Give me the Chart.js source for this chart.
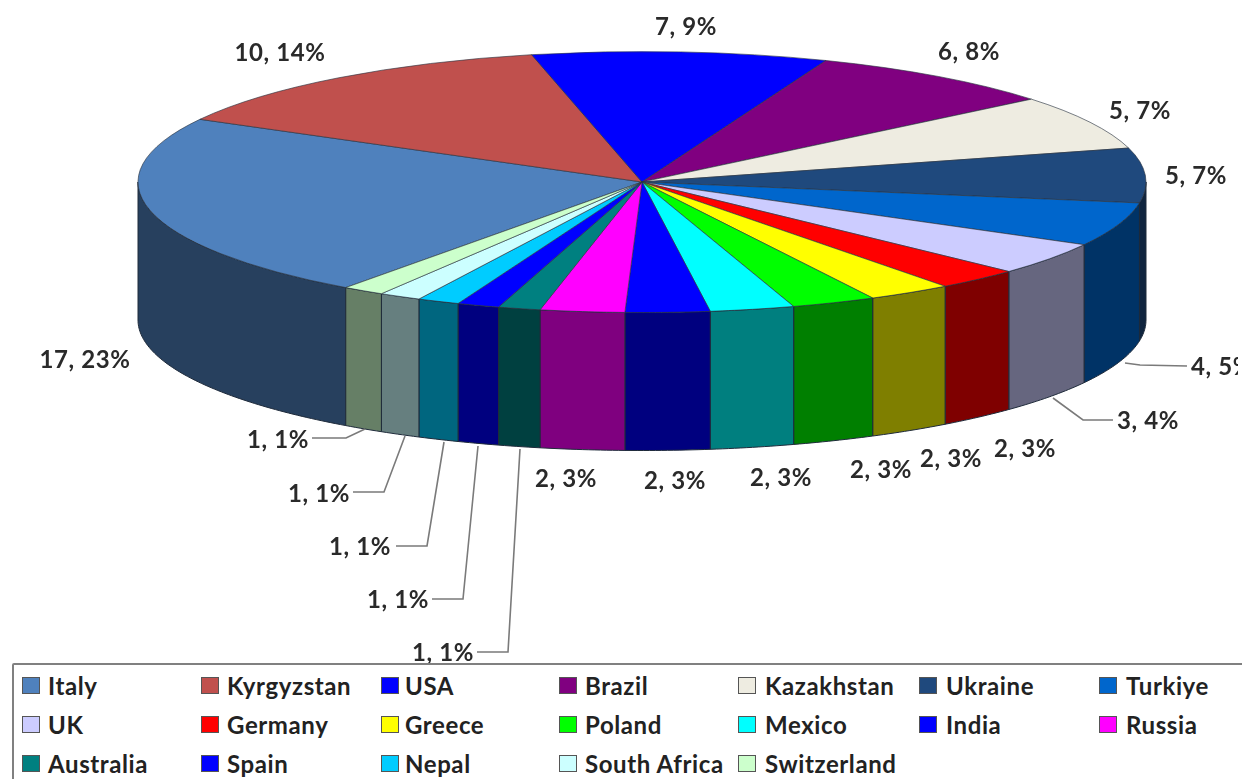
<!DOCTYPE html>
<html><head><meta charset="utf-8">
<style>
html,body{margin:0;padding:0;background:#fff;overflow:hidden}
#wrap{position:relative;width:1242px;height:779px;overflow:hidden}
canvas{position:absolute;left:0;top:0}
#legend{position:absolute;left:12px;top:663px;width:1260px;height:130px;background:#fff;border:2px solid #808080;border-radius:2px;box-sizing:border-box}
.it{position:absolute;font:700 24px Lato,sans-serif;letter-spacing:.6px;color:#222;white-space:nowrap;line-height:26px}
.bx{position:absolute;width:18px;height:17px;border:1px solid #555;box-sizing:border-box}
</style></head><body>
<div id="wrap"><canvas id="c" width="1242" height="779"></canvas><div id="legend"></div></div>
<script src="https://cdn.jsdelivr.net/npm/chart.js@4"></script>
<script>
const categories=["Italy","Kyrgyzstan","USA","Brazil","Kazakhstan","Ukraine","Turkiye","UK","Germany","Greece","Poland","Mexico","India","Russia","Australia","Spain","Nepal","South Africa","Switzerland"];
const counts=[17,10,7,6,5,5,4,3,2,2,2,2,2,2,1,1,1,1,1];
const colors=["#4f81bd","#c0504d","#0000ff","#800080","#eeece1","#1f497d","#0066cc","#ccccff","#ff0000","#ffff00","#00ff00","#00ffff","#0000ff","#ff00ff","#008080","#0000ff","#00ccff","#ccffff","#ccffcc"];

// Presentation layout (not data)
const SQUASH=130.5/504, DEPTH=138;
const labelSpots=[[85,360],[280,53],[686,27],[969,52],[1140,111],[1196,176],[1222,367],[1148,421],[1025,449],[951,459],[881,470],[781,478],[675,481],[566,479],[443,653],[398,600],[360,547],[319,494],[278,440]];
const leaders={6:[[1125,363],[1140,365],[1187,366]],7:[[1053,398],[1083,420],[1113,420]],
 14:[[520,449],[508,652],[477,652]],15:[[478,446],[463,599],[432,599]],16:[[444,442],[427,546],[396,546]],17:[[405,436],[384,492],[353,492]],18:[[365,429],[346,438],[312,438]]};
const colX=[[22,48],[201,227],[381,405],[559,585],[738,765],[919,946],[1099,1126]];
const rowY=[685.5,724.5,763.5];

const total=counts.reduce((a,b)=>a+b,0);
const half=h=>{const n=parseInt(h.slice(1),16);return `rgb(${(n>>16)>>1},${((n>>8)&255)>>1},${(n&255)>>1})`;};

const pie3d={id:'pie3d',
 beforeDatasetDraw(chart,args){
  const ctx=chart.ctx, arcs=args.meta.data;
  ctx.save();
  ctx.lineWidth=1; ctx.strokeStyle='#1e2a3a';
  arcs.forEach((a,i)=>{
    const p=a.getProps(['x','y','startAngle','endAngle','outerRadius'],true);
    const TAU=Math.PI*2;
    let s=p.startAngle, e=p.endAngle;
    while(s<0){s+=TAU;e+=TAU;}
    [[0,Math.PI],[TAU,TAU+Math.PI]].forEach(([lo,hi])=>{
      const u=Math.max(s,lo), v=Math.min(e,hi);
      if(v<=u) return;
      const n=Math.max(4,Math.ceil((v-u)*80));
      ctx.beginPath();
      for(let k=0;k<=n;k++){const t=u+(v-u)*k/n;ctx.lineTo(p.x+p.outerRadius*Math.cos(t),p.y+SQUASH*p.outerRadius*Math.sin(t));}
      for(let k=n;k>=0;k--){const t=u+(v-u)*k/n;ctx.lineTo(p.x+p.outerRadius*Math.cos(t),p.y+DEPTH+SQUASH*p.outerRadius*Math.sin(t));}
      ctx.closePath();
      ctx.fillStyle=half(colors[i]);ctx.fill();ctx.stroke();
    });
  });
  ctx.restore();
  const c=arcs[0].getProps(['x','y'],true);
  ctx.save();
  ctx.translate(c.x,c.y);ctx.scale(1,SQUASH);ctx.translate(-c.x,-c.y);
 },
 afterDatasetDraw(chart){chart.ctx.restore();},
 afterDraw(chart){
  const ctx=chart.ctx;
  ctx.save();
  ctx.beginPath();ctx.rect(0,0,1238,779);ctx.clip();
  ctx.strokeStyle='#7a7a7a';ctx.lineWidth=1.6;
  Object.values(leaders).forEach(pts=>{ctx.beginPath();pts.forEach(q=>ctx.lineTo(q[0],q[1]));ctx.stroke();});
  ctx.fillStyle='#2a2a2a';ctx.font='700 24px Lato, sans-serif';ctx.letterSpacing='0.6px';ctx.textAlign='center';ctx.textBaseline='middle';
  counts.forEach((v,i)=>{ctx.fillText(`${v}, ${Math.round(v/total*100)}%`,labelSpots[i][0],labelSpots[i][1]);});
  ctx.restore();
 }};

new Chart(document.getElementById('c'),{type:'pie',
 data:{labels:categories,datasets:[{data:counts,backgroundColor:colors,borderColor:'#2a3340',borderWidth:1,clip:false}]},
 options:{responsive:false,animation:false,rotation:216,radius:504,devicePixelRatio:1,
  layout:{padding:{left:42,right:0,top:0,bottom:415}},
  events:[],plugins:{legend:{display:false},tooltip:{enabled:false}}},
 plugins:[pie3d]});

const lg=document.getElementById('legend');
categories.forEach((n,i)=>{
  const c=colX[i%7], y=rowY[Math.floor(i/7)];
  const b=document.createElement('div');b.className='bx';b.style.left=(c[0]-14)+'px';b.style.top=(y-8.5-665)+'px';b.style.background=colors[i];lg.appendChild(b);
  const t=document.createElement('div');t.className='it';t.textContent=n;t.style.left=(c[1]-14)+'px';t.style.top=(y-13-665)+'px';lg.appendChild(t);
});
</script></body></html>
